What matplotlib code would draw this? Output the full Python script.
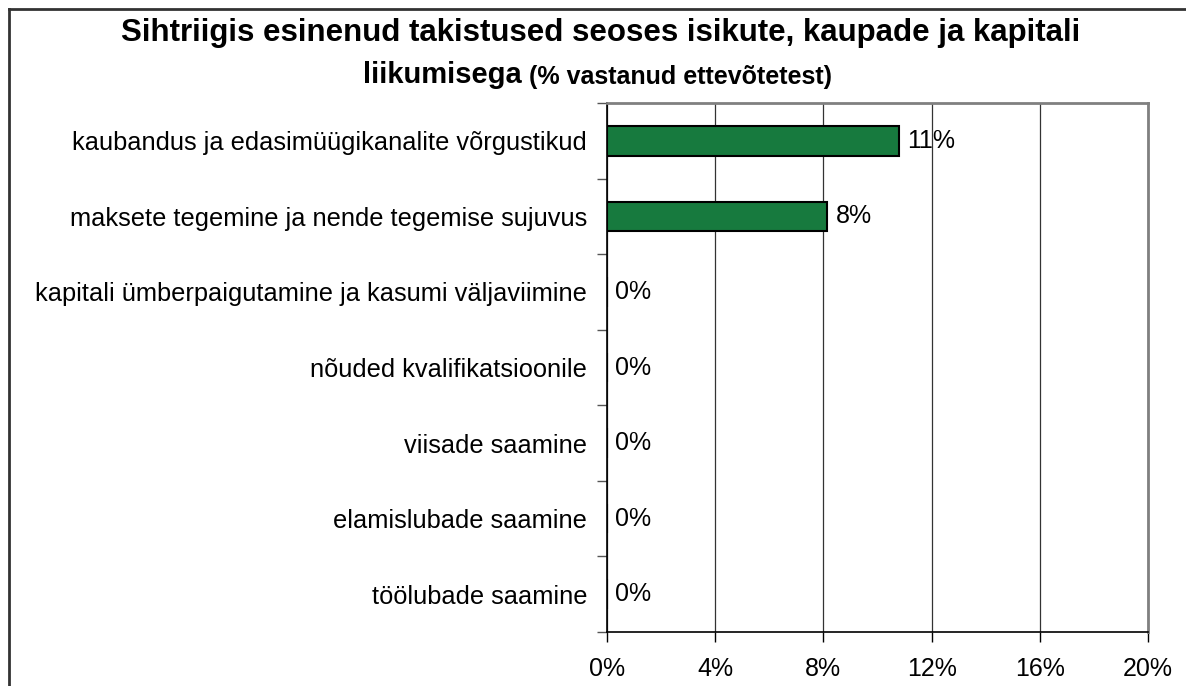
import numpy as np
import matplotlib
matplotlib.use("Agg")
import matplotlib.pyplot as plt
from matplotlib.lines import Line2D

plt.rcParams['font.family'] = ['Liberation Sans', 'DejaVu Sans']

# andmed
categories = [
    "kaubandus ja edasimüügikanalite võrgustikud",
    "maksete tegemine ja nende tegemise sujuvus",
    "kapitali ümberpaigutamine ja kasumi väljaviimine",
    "nõuded kvalifikatsioonile",
    "viisade saamine",
    "elamislubade saamine",
    "töölubade saamine",
]
values = [10.8, 8.15, 0, 0, 0, 0, 0]
value_labels = ["11%", "8%", "0%", "0%", "0%", "0%", "0%"]
xticks = [0, 4, 8, 12, 16, 20]

fig = plt.figure(figsize=(11.86, 6.86), dpi=100)
ax = fig.add_axes([607/1186, 54/686, 541/1186, 529/686])

y = np.arange(len(categories))
ax.barh(y, values, height=0.39, color="#177A3E", edgecolor="black", linewidth=1.5, zorder=3)

for yi, v, lab in zip(y, values, value_labels):
    ax.text(v + 0.3, yi, lab, va="center", ha="left", fontsize=18, zorder=4)

ax.set_xlim(0, 20)
ax.set_ylim(len(categories) - 0.5, -0.5)

ax.set_xticks(xticks)
ax.set_xticklabels([f"{t}%" for t in xticks], fontsize=18)
ax.tick_params(axis="x", direction="out", length=7, width=1, pad=11)

ax.set_yticks(y)
ax.set_yticklabels(categories, fontsize=18.3)
ax.tick_params(axis="y", which="major", length=0, pad=14.4)
ax.set_yticks(np.arange(-0.5, len(categories), 1), minor=True)
ax.tick_params(axis="y", which="minor", direction="out", length=7, width=1, color="#555555")

ax.grid(axis="x", color="#333333", linewidth=0.9, zorder=0)
for s in ["top", "right"]:
    ax.spines[s].set_color("#808080")
    ax.spines[s].set_linewidth(2)
ax.spines["left"].set_color("black")
ax.spines["bottom"].set_color("black")
ax.spines["left"].set_linewidth(1.2)
ax.spines["bottom"].set_linewidth(1.2)

# titel
fig.text(601/1186, 1 - 33/686, "Sihtriigis esinenud takistused seoses isikute, kaupade ja kapitali",
         ha="center", va="center", fontsize=22.5, fontweight="bold")
fig.text(522/1186, 1 - 75/686, "liikumisega", ha="right", va="center", fontsize=21, fontweight="bold")
fig.text(529/1186, 1 - 77/686, "(% vastanud ettevõtetest)", ha="left", va="center", fontsize=18, fontweight="bold")

# raam
fig.add_artist(Line2D([9/1186, 9/1186], [0, 1 - 9/686], transform=fig.transFigure, color="#333333", linewidth=2))
fig.add_artist(Line2D([9/1186, 1], [1 - 9/686, 1 - 9/686], transform=fig.transFigure, color="#333333", linewidth=2))

fig.savefig("out.png", dpi=100)
